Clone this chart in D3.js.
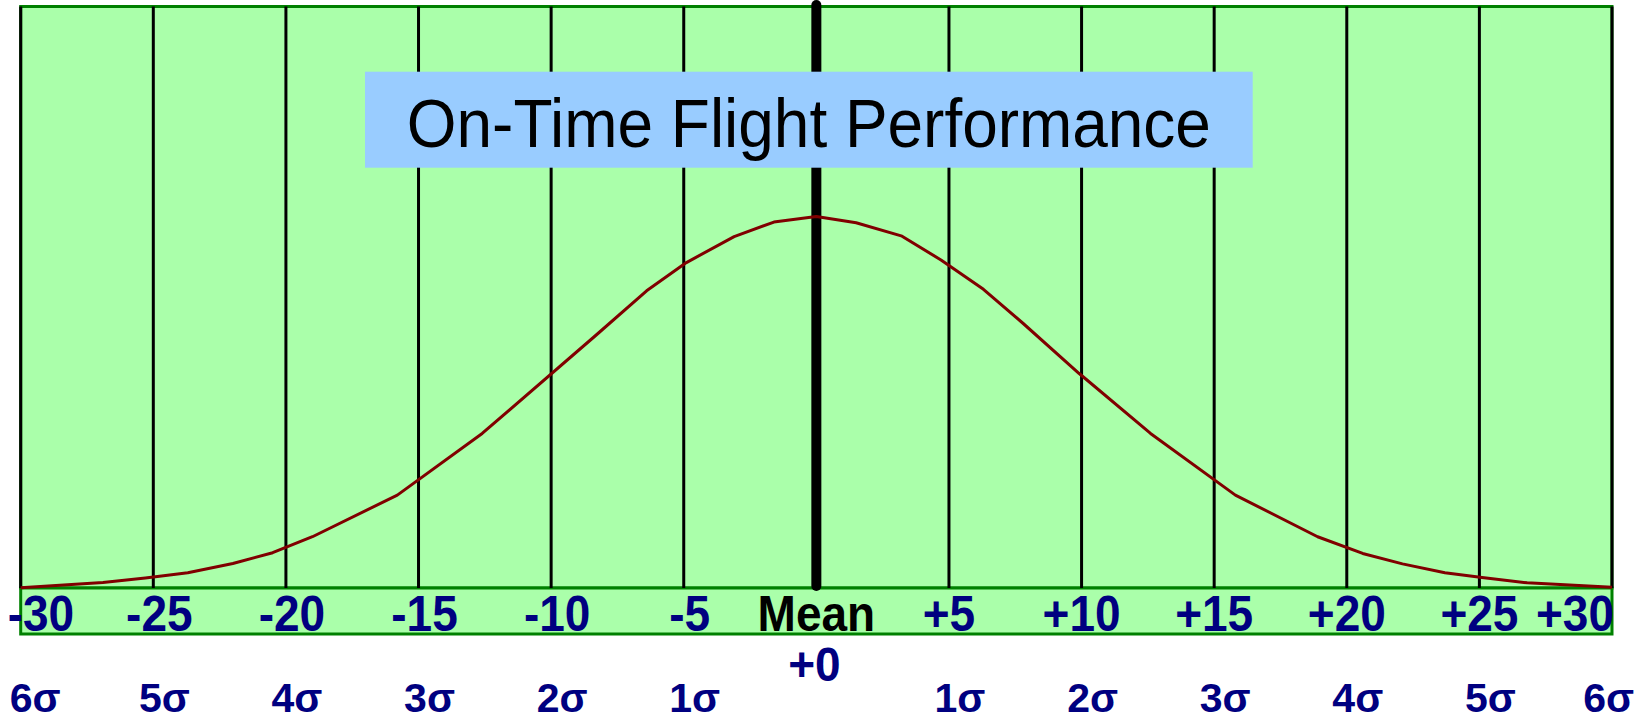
<!DOCTYPE html>
<html>
<head>
<meta charset="utf-8">
<script src="https://cdn.jsdelivr.net/npm/d3@7"></script>
<style>
  html, body { margin: 0; padding: 0; background: #ffffff; }
  svg { display: block; }
</style>
</head>
<body>
<svg id="chart" width="1648" height="721"></svg>
<script>
// Deviation from scheduled time (minutes) where the grid lines sit
const tickValues = [-30, -25, -20, -15, -10, -5, 0, 5, 10, 15, 20, 25, 30];
const tickLabels = ["-30", "-25", "-20", "-15", "-10", "-5", "Mean", "+5", "+10", "+15", "+20", "+25", "+30"];
const sigmaLabels = ["6σ", "5σ", "4σ", "3σ", "2σ", "1σ", "", "1σ", "2σ", "3σ", "4σ", "5σ", "6σ"];
const meanSubLabel = "+0";
const titleText = "On-Time Flight Performance";

// Distribution curve: minutes from mean, relative frequency (peak = 100)
const curveX = [-30, -26.9, -25.3, -23.7, -22.0, -20.5, -19.0, -15.8, -12.6, -8.3, -6.4, -4.9, -3.1, -1.6, 0,
                1.5, 3.2, 4.7, 6.3, 7.8, 9.9, 12.6, 15.8, 18.9, 20.6, 22.1, 23.7, 25.1, 26.8, 30];
const curveY = [0.1, 1.5, 2.7, 4.1, 6.6, 9.5, 13.8, 25.0, 41.6, 68.1, 80.0, 87.6, 94.6, 98.5, 100,
                98.3, 94.8, 88.3, 80.4, 71.2, 57.8, 41.6, 25.0, 13.8, 9.3, 6.5, 4.1, 2.8, 1.4, 0.2];

const svg = d3.select("#chart");

const plotLeft = 20.7, plotRight = 1612, plotTop = 6.5, baseY = 588, bandBottom = 634;

const x = d3.scaleLinear().domain([-30, 30]).range([plotLeft, plotRight]);
const y = d3.scaleLinear().domain([0, 100]).range([baseY, 216.5]);

const fillGreen = "#aaffaa", borderGreen = "#008000", navy = "#000080";
const font = "'Liberation Sans', Arial, sans-serif";

// Plot background
svg.append("rect")
  .attr("x", plotLeft).attr("y", plotTop)
  .attr("width", plotRight - plotLeft).attr("height", baseY - plotTop)
  .attr("fill", fillGreen).attr("stroke", borderGreen).attr("stroke-width", 3);

// Label band under the plot
svg.append("rect")
  .attr("x", plotLeft).attr("y", baseY)
  .attr("width", plotRight - plotLeft).attr("height", bandBottom - baseY)
  .attr("fill", fillGreen).attr("stroke", borderGreen).attr("stroke-width", 3);

// Vertical grid lines (mean line drawn heavier)
svg.append("g").selectAll("line")
  .data(tickValues)
  .join("line")
  .attr("x1", d => x(d)).attr("x2", d => x(d))
  .attr("y1", d => d === 0 ? 5 : plotTop)
  .attr("y2", d => d === 0 ? baseY - 2 : baseY)
  .attr("stroke", "#000")
  .attr("stroke-width", d => d === 0 ? 10 : 3)
  .attr("stroke-linecap", d => d === 0 ? "round" : "butt");

// Title box
const boxX0 = 365, boxX1 = 1252.7, boxY0 = 71.7, boxY1 = 167.7;
svg.append("rect")
  .attr("x", boxX0).attr("y", boxY0)
  .attr("width", boxX1 - boxX0).attr("height", boxY1 - boxY0)
  .attr("fill", "#99ccff");
svg.append("text")
  .attr("x", (boxX0 + boxX1) / 2).attr("y", 147)
  .attr("text-anchor", "middle")
  .attr("font-family", font)
  .attr("font-size", 68)
  .attr("textLength", 804)
  .attr("lengthAdjust", "spacingAndGlyphs")
  .attr("fill", "#000")
  .text(titleText);

// Distribution curve
const pts = curveX.map((v, i) => [v, curveY[i]]);
svg.append("path")
  .datum(pts)
  .attr("d", d3.line().x(d => x(d[0])).y(d => y(d[1])))
  .attr("fill", "none")
  .attr("stroke", "#800000")
  .attr("stroke-width", 3)
  .attr("stroke-linejoin", "round");

// Minute labels inside the band (slightly tall, narrow lettering)
const last = tickValues.length - 1;
svg.append("g").selectAll("text")
  .data(tickValues)
  .join("text")
  .attr("transform", (d, i) => {
    const tx = i === 0 ? x(d) - 13 : i === last ? x(d) + 2 : x(d) + (d < 0 ? 6 : 0);
    return `translate(${tx},631) scale(1,1.07)`;
  })
  .attr("text-anchor", (d, i) => i === 0 ? "start" : i === last ? "end" : "middle")
  .attr("font-family", font)
  .attr("font-weight", "bold")
  .attr("font-size", 46)
  .attr("fill", d => d === 0 ? "#000" : navy)
  .text((d, i) => tickLabels[i]);

// "+0" under the mean label
svg.append("text")
  .attr("transform", `translate(${x(0) - 2},681) scale(1,1.05)`)
  .attr("text-anchor", "middle")
  .attr("font-family", font)
  .attr("font-weight", "bold")
  .attr("font-size", 46)
  .attr("fill", navy)
  .text(meanSubLabel);

// Sigma row
svg.append("g").selectAll("text")
  .data(tickValues)
  .join("text")
  .attr("x", (d, i) => i === 0 ? x(d) - 11 : i === last ? x(d) + 22 : x(d) + 11)
  .attr("y", 712)
  .attr("text-anchor", (d, i) => i === 0 ? "start" : i === last ? "end" : "middle")
  .attr("font-family", font)
  .attr("font-weight", "bold")
  .attr("font-size", 41)
  .attr("fill", navy)
  .text((d, i) => sigmaLabels[i]);
</script>
</body>
</html>
